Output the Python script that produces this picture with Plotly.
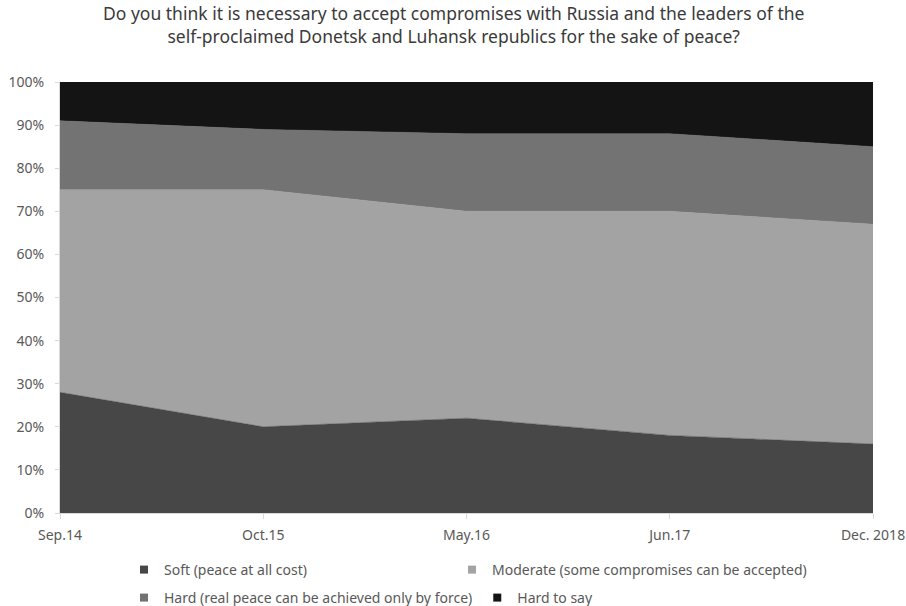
import plotly.graph_objects as go

categories = ["Sep.14", "Oct.15", "May.16", "Jun.17", "Dec. 2018"]
soft = [28, 20, 22, 18, 16]
moderate = [47, 55, 48, 52, 51]
hard = [16, 14, 18, 18, 18]
hard_to_say = [9, 11, 12, 12, 15]
y_ticks = [0, 10, 20, 30, 40, 50, 60, 70, 80, 90, 100]
y_tick_labels = [f"{v}%" for v in y_ticks]
title_lines = [
    "Do you think it is necessary to accept compromises with Russia and the leaders of the",
    "self-proclaimed Donetsk and Luhansk republics for the sake of peace?",
]

series = [
    ("Soft (peace at all cost)", soft, "#474747", "legend"),
    ("Moderate (some compromises can be accepted)", moderate, "#a3a3a3", "legend3"),
    ("Hard (real peace can be achieved only by force)", hard, "#737373", "legend2"),
    ("Hard to say", hard_to_say, "#141414", "legend2"),
]

fig = go.Figure()
for name, vals, color, leg in series:
    fig.add_trace(go.Scatter(
        x=categories, y=vals, name=name, mode="lines",
        stackgroup="one", groupnorm="percent",
        line=dict(width=0.5, color=color), fillcolor=color,
        showlegend=False,
    ))
# legend entries with square swatches
for name, vals, color, leg in series:
    fig.add_trace(go.Scatter(
        x=[None], y=[None], name=name, mode="markers",
        marker=dict(symbol="square", size=8, color=color),
        legend=leg, showlegend=True,
    ))

font_family = "Noto Sans"
W, H = 906, 606
L, R, T, B = 60, 33, 82, 93
PW, PH = W - L - R, H - T - B


def px_x(x):
    return (x - L) / PW


def px_y(y):
    return (H - B - y) / PH


leg_common = dict(orientation="h", xanchor="left", yanchor="middle", itemwidth=30,
                  traceorder="normal", font=dict(size=14, color="#595959"),
                  bgcolor="rgba(0,0,0,0)", tracegroupgap=0)

fig.update_layout(
    width=W, height=H,
    margin=dict(l=L, r=R, t=T, b=B, autoexpand=False),
    paper_bgcolor="white", plot_bgcolor="white",
    font=dict(family=font_family, size=12, color="#595959"),
    showlegend=True,
    legend=dict(x=px_x(124), y=px_y(570), **leg_common),
    legend3=dict(x=px_x(452), y=px_y(570), **leg_common),
    legend2=dict(x=px_x(124), y=px_y(598), **leg_common),
)
fig.add_annotation(
    text="<br>".join(title_lines), xref="paper", yref="paper",
    x=(W / 2 - L) / PW, y=px_y(25), xanchor="center", yanchor="middle",
    showarrow=False, align="center",
    font=dict(family=font_family, size=17.5, color="#3a3a3a"),
)
fig.update_xaxes(
    type="category", range=[0, len(categories) - 1], showgrid=False,
    showline=True, linecolor="#d9d9d9", ticks="outside", ticklen=5, tickcolor="#d9d9d9",
    tickfont=dict(size=14, color="#595959"), zeroline=False, ticklabelstandoff=4,
)
fig.update_yaxes(
    range=[0, 100], tickvals=y_ticks, ticktext=y_tick_labels, showgrid=False,
    showline=True, linecolor="#d9d9d9", ticks="outside", ticklen=4, tickcolor="#d9d9d9",
    tickfont=dict(size=14, color="#595959"), zeroline=False, ticklabelstandoff=8,
)
fig.write_html("out.html")
